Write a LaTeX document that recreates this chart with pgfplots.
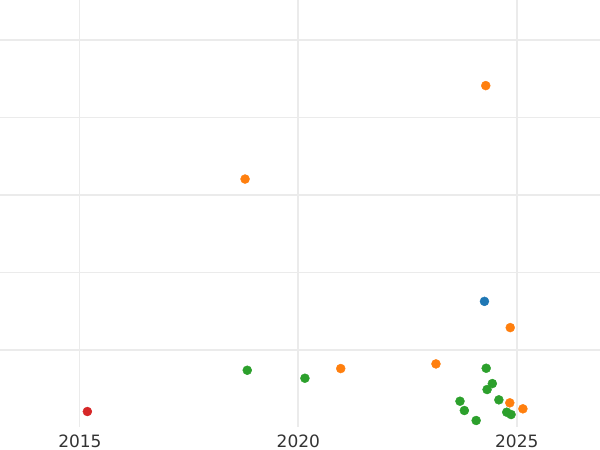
\documentclass[border=0pt]{standalone}
\usepackage{pgfplots}
\pgfplotsset{compat=1.18}
\usepackage{fontspec}
\setmainfont{DejaVu Sans}
\definecolor{tblue}{HTML}{1F77B4}
\definecolor{torange}{HTML}{FF7F0E}
\definecolor{tgreen}{HTML}{2CA02C}
\definecolor{tred}{HTML}{D62728}
\definecolor{gridc}{HTML}{EBEBEB}
\pgfplotsset{dot/.style={only marks, mark=*, mark size=4.5pt, draw=#1, fill=#1, mark options={draw=#1, fill=#1}}}
\begin{document}
\begin{tikzpicture}
\begin{axis}[
  scale only axis,
  width=600pt, height=427pt,
  xmin=2013.17, xmax=2026.905,
  ymin=0, ymax=5.516,
  axis line style={draw=none},
  xtick={2020,2025},
  extra x ticks={2015},
  extra x tick style={major grid style={draw=gridc, line width=1pt}},
  ytick={1,3,5},
  minor ytick={2,4},
  yticklabels={},
  major tick length=0pt, minor tick length=0pt,
  xmajorgrids, ymajorgrids, yminorgrids,
  major grid style={draw=gridc, line width=2pt},
  minor grid style={draw=gridc, line width=1pt},
  tick label style={font=\fontsize{17}{20}\selectfont, text=black!80},
  xticklabel style={yshift=-4pt},
  /pgf/number format/1000 sep={},
  /pgf/number format/assume math mode=true,
  clip=false,
]
\addplot[dot=tblue] coordinates {(2024.26,1.623)};
\addplot[dot=torange] coordinates {
(2018.78,3.203) (2024.29,4.41) (2020.97,0.755) (2023.15,0.815)
(2024.85,1.284) (2024.84,0.312) (2025.14,0.235)};
\addplot[dot=tgreen] coordinates {
(2018.83,0.733) (2020.15,0.63) (2024.30,0.759) (2024.44,0.561)
(2024.32,0.484) (2023.70,0.333) (2023.80,0.213) (2024.07,0.084)
(2024.59,0.351) (2024.77,0.191) (2024.87,0.161)};
\addplot[dot=tred] coordinates {(2015.17,0.2)};
\end{axis}
\pgfresetboundingbox
\path[use as bounding box] (0,-23pt) rectangle (600pt,427pt);
\end{tikzpicture}
\end{document}
